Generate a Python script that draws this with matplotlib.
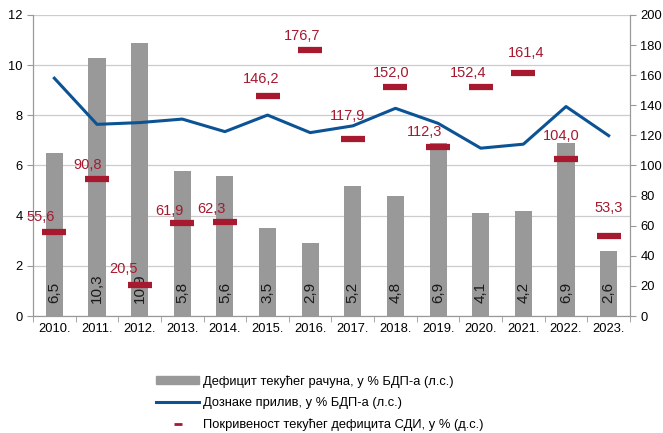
import matplotlib.pyplot as plt
import numpy as np
from matplotlib.lines import Line2D
from matplotlib.patches import Patch

plt.rcParams['font.family'] = ['Liberation Sans', 'DejaVu Sans']

years = ['2010.', '2011.', '2012.', '2013.', '2014.', '2015.', '2016.',
         '2017.', '2018.', '2019.', '2020.', '2021.', '2022.', '2023.']
deficit = [6.5, 10.3, 10.9, 5.8, 5.6, 3.5, 2.9, 5.2, 4.8, 6.9, 4.1, 4.2, 6.9, 2.6]
remit = [9.48, 7.64, 7.71, 7.85, 7.35, 8.01, 7.31, 7.58, 8.28, 7.68, 6.69, 6.85, 8.35, 7.19]
fdi_cov = [55.6, 90.8, 20.5, 61.9, 62.3, 146.2, 176.7, 117.9, 152.0, 112.3, 152.4, 161.4, 104.0, 53.3]
# label offsets (px) for the coverage values
lab_dx = [-14, -9, -16, -13, -13, -6, -8, -5, -4, -14, -13, 3, -5, 0]
lab_dy = [15, 14, 16, 12, 13, 17, 14, 23, 14, 15, 14, 20, 23, 28]

bar_col = '#999999'
line_col = '#0B5394'
red = '#A6192E'

x = np.arange(len(years))
fig = plt.figure(figsize=(6.63, 4.33), dpi=100)
ax = fig.add_axes([0.0498, 0.2702, 0.9004, 0.6952])
ax2 = ax.twinx()

ax.bar(x, deficit, width=0.4, color=bar_col, zorder=2)
for i, v in enumerate(deficit):
    ax.text(x[i], 0.5, ('%.1f' % v).replace('.', ','), rotation=90, ha='center',
            va='bottom', fontsize=11, color='#1a1a1a', zorder=3)
ax.plot(x, remit, color=line_col, lw=2.2, zorder=4)

ax2.plot(x, fdi_cov, linestyle='none', marker='_', markersize=17, mew=4.5, color=red, zorder=5)
for i, v in enumerate(fdi_cov):
    ax2.annotate(('%.1f' % v).replace('.', ','), (x[i], v), xytext=(lab_dx[i], lab_dy[i]),
                 textcoords='offset pixels', ha='center', va='center', fontsize=10.5, color=red)

ax.set_ylim(0, 12)
ax.set_yticks(np.arange(0, 13, 2))
ax2.set_ylim(0, 200)
ax2.set_yticks(np.arange(0, 201, 20))
ax.set_xlim(-0.5, len(years) - 0.5)
ax.set_xticks(x)
ax.set_xticklabels(years)
ax.set_xticks(np.arange(-0.5, len(years), 1), minor=True)
ax.tick_params(axis='x', which='major', length=0, labelsize=9.3, pad=5)
ax.tick_params(axis='x', which='minor', length=4, color='#999999')
ax.tick_params(axis='y', length=4, color='#999999', labelsize=9.3)
ax2.tick_params(axis='y', length=4, color='#999999', labelsize=9.3)
ax.grid(axis='y', color='#cccccc', lw=0.9, zorder=0)
ax.set_axisbelow(True)
ax2.set_zorder(ax.get_zorder() + 1)
ax2.patch.set_visible(False)
for a in (ax, ax2):
    a.spines['top'].set_visible(False)
    for s in ('left', 'right', 'bottom'):
        a.spines[s].set_color('#999999')

handles = [Patch(color=bar_col),
           Line2D([0], [0], color=line_col, lw=2.2),
           Line2D([0], [0], linestyle='none', marker='_', markersize=6, mew=2, color=red)]
labels = ['Дефицит текућег рачуна, у % БДП-а (л.с.)',
          'Дознаке прилив, у % БДП-а (л.с.)',
          'Покривеност текућег дефицита СДИ, у % (д.с.)']
fig.legend(handles, labels, loc='upper left', bbox_to_anchor=(0.226, 0.148), frameon=False,
           fontsize=9.3, handlelength=3.3, handleheight=0.6, labelspacing=0.72, handletextpad=0.3,
           borderpad=0)

fig.savefig('out.png', dpi=100)
